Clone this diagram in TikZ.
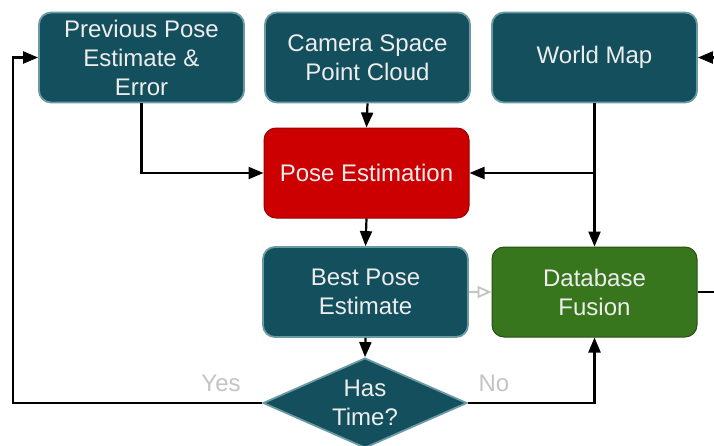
\documentclass[tikz,border=0pt]{standalone}
\usepackage{fontspec}
\setmainfont{Liberation Sans}
\usetikzlibrary{arrows.meta,shapes.geometric}
\definecolor{teal}{HTML}{134F5C}
\definecolor{tealedge}{HTML}{6A9AA4}
\definecolor{redfill}{HTML}{CC0000}
\definecolor{rededge}{HTML}{990000}
\definecolor{greenfill}{HTML}{38761D}
\definecolor{greenedge}{HTML}{274E13}
\definecolor{lbl}{HTML}{C4C4C4}
\tikzset{
  box/.style={draw=tealedge, fill=teal, line width=1.8pt, rounded corners=12pt,
    minimum width=205pt, minimum height=90pt, inner sep=0pt,
    text=white!93!black, align=center,
    font=\fontsize{24}{29}\selectfont},
  redbox/.style={box, draw=rededge, fill=redfill, line width=1pt},
  greenbox/.style={box, draw=greenedge, fill=greenfill, line width=1pt},
  decision/.style={box, shape=diamond, rounded corners=0pt, aspect=2.27,
    minimum width=204pt, minimum height=90pt},
  flow/.style={draw=black, line width=2.2pt,
    -{Triangle[length=15pt,width=12pt]}},
  weak/.style={draw=lbl, line width=1.8pt,
    -{Triangle[open,length=14pt,width=12pt,fill=white]}},
  tag/.style={text=lbl, font=\fontsize{24}{29}\selectfont}
}
\begin{document}
\begin{tikzpicture}[x=1pt,y=-1pt]
\useasboundingbox (0,0) rectangle (714,445);

% boxes
\node[box] (prev)  at (141.5,57.5) {Previous Pose\\Estimate \&\\Error};
\node[box] (cam)   at (367.5,57.5) {Camera Space\\Point Cloud};
\node[box] (world) at (594.5,57.5) {World Map};
\node[redbox] (pose) at (366.5,173) {Pose Estimation};
\node[box] (best)  at (365.5,292) {Best Pose\\Estimate};
\node[greenbox] (db) at (594.5,292) {Database\\Fusion};
\node[decision] (time) at (365,403) {Has\\Time?};

\coordinate (loopx) at (13,403);
\coordinate (tap) at (594.5,173);
\coordinate (outr) at (740,292);

% connectors
\draw[flow] (prev.south) |- (pose.west);
\draw[flow] (cam.south) -- (pose.north);
\draw[flow] (tap) -- (pose.east);
\draw[flow] (world.south) -- (db.north);
\draw[flow] (pose.south) -- (best.north);
\draw[weak] (best.east) -- (db.west);
\draw[flow] (best.south) -- (time.north);
\draw[flow] (time.west) -- (loopx) |- (prev.west);
\draw[flow] (time.east) -| (db.south);
\draw[flow] (db.east) -- (outr) |- (world.east);

% branch labels
\node[tag] (yes) at (221,383) {Yes};
\node[tag] (no)  at (494,383) {No};
\end{tikzpicture}
\end{document}
